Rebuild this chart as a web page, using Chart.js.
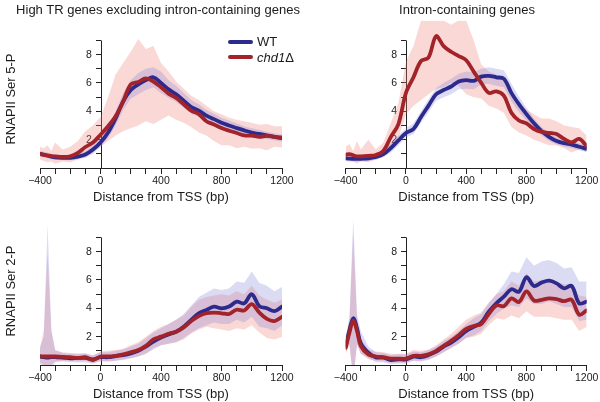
<!DOCTYPE html>
<html>
<head>
<meta charset="utf-8">
<script src="https://cdn.jsdelivr.net/npm/chart.js@4"></script>
<style>
  body { margin: 0; background: #fff; }
  #wrap { position: relative; width: 600px; height: 402px; overflow: hidden; font-family: "Liberation Sans", Arial, sans-serif; color: #1a1a1a; }
  canvas { position: absolute; }
  .txt { position: absolute; font-size: 13px; white-space: nowrap; line-height: 1; }
  .ytitle { position: absolute; font-size: 13px; white-space: nowrap; transform: translate(-50%, -50%) rotate(-90deg); line-height: 1; }
  .leg { position: absolute; height: 4px; width: 25px; border-radius: 2px; }
</style>
</head>
<body>
<div id="wrap">
  <canvas id="p1" width="300" height="210" style="left:0;top:0"></canvas>
  <canvas id="p2" width="300" height="210" style="left:300px;top:0"></canvas>
  <canvas id="p3" width="300" height="202" style="left:0;top:200px"></canvas>
  <canvas id="p4" width="300" height="202" style="left:300px;top:200px"></canvas>

  <div class="txt" style="left:158px;top:3px;transform:translateX(-50%)">High TR genes excluding intron-containing genes</div>
  <div class="txt" style="left:467px;top:3px;transform:translateX(-50%)">Intron-containing genes</div>
  <div class="ytitle" style="left:10px;top:99px">RNAPII Ser 5-P</div>
  <div class="ytitle" style="left:10px;top:291px">RNAPII Ser 2-P</div>

  <div class="leg" style="left:228px;top:40px;background:#2c2a8c"></div>
  <div class="txt" style="left:257px;top:35px">WT</div>
  <div class="leg" style="left:228px;top:55px;background:#a3232a"></div>
  <div class="txt" style="left:257px;top:51px"><i>chd1</i>Δ</div>
</div>
<script>
const positions = [-400, -375, -350, -325, -300, -250, -200, -150, -100, -50, 0, 50, 100, 150, 200, 250, 300, 350, 400, 450, 500, 550, 600, 650, 700, 750, 800, 850, 900, 950, 1000, 1050, 1100, 1150, 1200];
const xTickLabels = [-400, 0, 400, 800, 1200];
const yTickLabels = [2, 4, 6, 8];

// Ser 5-P, high TR genes
const s5HighWt = [1.0, 0.95, 0.88, 0.8, 0.75, 0.72, 0.72, 0.8, 0.95, 1.3, 1.8, 2.5, 3.5, 4.7, 5.5, 5.9, 6.2, 6.4, 6.0, 5.55, 5.2, 4.75, 4.3, 4.05, 3.7, 3.45, 3.2, 3.0, 2.82, 2.65, 2.5, 2.4, 2.3, 2.2, 2.1];
const s5HighWtHi = [1.2, 1.15, 1.1, 1.0, 0.95, 0.9, 0.9, 1.0, 1.2, 1.6, 2.1, 2.9, 4.0, 5.3, 6.2, 6.7, 7.0, 7.1, 6.8, 6.2, 5.8, 5.3, 4.8, 4.5, 4.1, 3.85, 3.55, 3.35, 3.15, 2.95, 2.8, 2.7, 2.55, 2.45, 2.35];
const s5HighWtLo = [0.8, 0.75, 0.68, 0.62, 0.58, 0.55, 0.55, 0.62, 0.72, 1.0, 1.5, 2.1, 3.0, 4.1, 4.9, 5.2, 5.5, 5.7, 5.3, 4.95, 4.65, 4.25, 3.85, 3.6, 3.3, 3.05, 2.85, 2.65, 2.5, 2.35, 2.2, 2.1, 2.05, 1.95, 1.85];
const s5HighChd1 = [1.0, 0.92, 0.88, 0.84, 0.82, 0.78, 0.82, 1.06, 1.48, 1.8, 2.35, 2.95, 3.65, 4.7, 5.9, 6.07, 6.33, 6.1, 5.7, 5.25, 4.95, 4.5, 4.05, 3.8, 3.3, 3.07, 2.82, 2.63, 2.47, 2.3, 2.28, 2.2, 2.27, 2.2, 2.15];
const s5HighChd1Hi = [1.5, 1.4, 1.6, 1.2, 1.8, 1.3, 1.5, 1.9, 2.6, 3.0, 3.6, 5.0, 6.6, 7.4, 8.2, 9.1, 8.4, 8.6, 7.4, 6.8, 6.1, 5.6, 5.1, 4.8, 4.4, 4.0, 3.8, 3.55, 3.4, 3.3, 3.2, 3.05, 3.1, 2.95, 2.95];
const s5HighChd1Lo = [0.6, 0.5, 0.4, 0.45, 0.3, 0.45, 0.4, 0.6, 0.9, 1.1, 1.5, 1.9, 2.3, 2.6, 2.8, 3.0, 3.3, 3.1, 3.4, 3.7, 3.4, 3.2, 2.9, 2.5, 2.3, 1.9, 1.6, 1.6, 1.4, 1.5, 1.35, 1.4, 1.25, 1.5, 1.45];

// Ser 5-P, intron-containing genes
const s5IntronWt = [0.68, 0.66, 0.65, 0.64, 0.65, 0.68, 0.78, 0.98, 1.41, 1.95, 2.47, 2.75, 3.6, 4.4, 5.2, 5.5, 5.75, 6.1, 6.2, 6.15, 6.45, 6.5, 6.4, 6.3, 5.3, 4.5, 3.8, 3.15, 2.6, 2.2, 1.9, 1.75, 1.65, 1.5, 1.36];
const s5IntronWtHi = [0.9, 0.88, 0.86, 0.85, 0.86, 0.9, 1.0, 1.25, 1.75, 2.3, 2.8, 3.15, 4.0, 4.85, 5.65, 6.0, 6.3, 6.65, 6.8, 6.75, 7.0, 7.1, 7.0, 6.9, 5.95, 5.05, 4.25, 3.5, 2.9, 2.5, 2.2, 2.05, 1.9, 1.75, 1.62];
const s5IntronWtLo = [0.48, 0.46, 0.45, 0.45, 0.46, 0.48, 0.58, 0.75, 1.1, 1.6, 2.15, 2.4, 3.2, 3.95, 4.75, 5.0, 5.2, 5.55, 5.6, 5.55, 5.9, 5.95, 5.8, 5.7, 4.7, 3.95, 3.35, 2.8, 2.3, 1.9, 1.65, 1.5, 1.4, 1.25, 1.15];
const s5IntronChd1 = [0.94, 0.98, 0.9, 0.82, 0.82, 0.86, 0.92, 1.2, 2.2, 3.1, 5.3, 6.4, 7.55, 7.8, 9.3, 8.6, 8.2, 7.9, 7.6, 6.8, 6.0, 5.3, 5.4, 5.1, 3.9, 3.35, 3.15, 2.75, 2.55, 2.48, 2.4, 2.05, 1.8, 2.05, 1.55];
const s5IntronChd1Hi = [1.5, 1.7, 1.2, 1.9, 1.3, 2.0, 1.3, 1.8, 3.2, 4.6, 7.5, 8.6, 10.4, 10.4, 10.4, 10.4, 10.1, 10.4, 10.4, 9.0, 7.3, 6.8, 6.6, 6.2, 5.2, 4.5, 4.1, 3.8, 3.5, 3.5, 3.3, 3.0, 2.9, 2.8, 2.3];
const s5IntronChd1Lo = [0.5, 0.55, 0.45, 0.3, 0.5, 0.4, 0.6, 0.8, 1.5, 2.1, 3.8, 4.4, 4.8, 5.2, 5.6, 5.7, 6.0, 5.8, 5.2, 5.0, 4.9, 4.4, 4.2, 3.9, 2.9, 2.5, 2.3, 2.0, 1.8, 1.6, 1.6, 1.4, 1.1, 1.3, 1.1];

// Ser 2-P, high TR genes
const s2HighWt = [0.59, 0.55, 0.52, 0.55, 0.55, 0.53, 0.47, 0.5, 0.5, 0.4, 0.55, 0.55, 0.63, 0.7, 0.82, 1.0, 1.3, 1.65, 1.93, 2.16, 2.35, 2.7, 3.18, 3.65, 3.88, 4.12, 4.0, 4.12, 4.47, 4.35, 4.99, 4.16, 4.0, 3.8, 4.12];
const s2HighWtHi = [1.3, 2.0, 9.9, 2.5, 1.1, 0.85, 0.8, 0.8, 0.8, 0.7, 0.9, 0.9, 1.0, 1.1, 1.3, 1.5, 1.9, 2.3, 2.6, 2.9, 3.2, 3.6, 4.2, 4.8, 5.1, 5.4, 5.3, 5.4, 5.9, 5.8, 6.6, 5.8, 5.6, 5.2, 5.5];
const s2HighWtLo = [0.1, -0.3, -1.0, -0.3, 0.2, 0.25, 0.2, 0.2, 0.2, 0.1, 0.25, 0.25, 0.3, 0.35, 0.45, 0.6, 0.8, 1.1, 1.4, 1.5, 1.6, 1.9, 2.3, 2.6, 2.8, 3.0, 2.9, 2.9, 3.2, 3.0, 3.4, 2.7, 2.6, 2.4, 2.8];
const s2HighChd1 = [0.62, 0.6, 0.6, 0.6, 0.6, 0.58, 0.55, 0.5, 0.55, 0.35, 0.6, 0.6, 0.65, 0.75, 0.9, 1.05, 1.35, 1.8, 2.0, 2.2, 2.35, 2.65, 3.1, 3.45, 3.65, 3.7, 3.65, 3.6, 3.9, 3.85, 4.3, 3.7, 3.25, 3.1, 3.4];
const s2HighChd1Hi = [1.1, 2.5, 7.9, 2.4, 1.0, 0.9, 0.85, 0.8, 0.85, 0.65, 0.95, 1.0, 1.05, 1.15, 1.4, 1.6, 2.0, 2.4, 2.7, 2.9, 3.2, 3.5, 4.1, 4.6, 4.8, 4.9, 5.0, 4.9, 5.2, 5.0, 5.6, 4.9, 4.6, 4.4, 4.6];
const s2HighChd1Lo = [0.2, 0.0, -1.0, 0.0, 0.25, 0.3, 0.3, 0.25, 0.3, 0.1, 0.3, 0.25, 0.3, 0.4, 0.5, 0.6, 0.8, 1.2, 1.4, 1.5, 1.6, 1.8, 2.2, 2.5, 2.7, 2.6, 2.5, 2.4, 2.6, 2.5, 2.8, 2.3, 1.9, 1.8, 2.0];

// Ser 2-P, intron-containing genes
const s2IntronWt = [1.36, 2.47, 3.3, 2.59, 1.53, 0.87, 0.54, 0.52, 0.35, 0.4, 0.4, 0.6, 0.55, 0.7, 0.94, 1.3, 1.58, 1.95, 2.4, 2.7, 2.99, 3.76, 4.35, 4.82, 5.34, 5.17, 6.19, 5.58, 5.81, 5.95, 5.76, 5.41, 5.58, 4.35, 4.47];
const s2IntronWtHi = [1.9, 3.5, 10.3, 3.6, 2.4, 1.3, 0.9, 0.85, 0.7, 0.75, 0.75, 0.95, 0.9, 1.05, 1.3, 1.7, 2.0, 2.4, 2.9, 3.3, 3.6, 4.4, 5.0, 5.7, 6.6, 6.5, 7.6, 7.0, 7.3, 7.4, 7.2, 6.8, 6.9, 5.9, 5.9];
const s2IntronWtLo = [0.9, 1.5, -1.0, 1.5, 0.8, 0.5, 0.2, 0.2, 0.05, 0.1, 0.1, 0.3, 0.25, 0.35, 0.6, 0.9, 1.2, 1.5, 1.9, 2.1, 2.4, 3.1, 3.6, 4.0, 4.2, 4.1, 4.7, 4.3, 4.3, 4.5, 4.3, 4.1, 4.1, 3.1, 3.2];
const s2IntronChd1 = [1.22, 2.3, 3.13, 2.4, 1.35, 0.75, 0.6, 0.55, 0.45, 0.45, 0.45, 0.65, 0.65, 0.75, 1.0, 1.35, 1.7, 2.1, 2.55, 2.75, 2.9, 3.6, 4.2, 4.15, 4.7, 4.45, 5.2, 4.55, 4.6, 4.7, 4.65, 4.5, 4.6, 3.55, 3.85];
const s2IntronChd1Hi = [1.6, 3.2, 9.3, 3.3, 1.9, 1.1, 0.95, 0.9, 0.8, 0.8, 0.8, 1.05, 1.0, 1.1, 1.4, 1.8, 2.2, 2.7, 3.2, 3.5, 3.7, 4.4, 5.0, 5.2, 5.9, 5.6, 6.5, 5.9, 6.0, 6.1, 5.9, 5.7, 5.7, 4.9, 4.8];
const s2IntronChd1Lo = [0.8, 1.4, -1.0, 1.4, 0.8, 0.4, 0.3, 0.25, 0.15, 0.15, 0.15, 0.3, 0.3, 0.4, 0.6, 0.9, 1.2, 1.5, 1.9, 2.0, 2.2, 2.8, 3.3, 3.2, 3.5, 3.3, 3.8, 3.4, 3.4, 3.4, 3.3, 3.2, 3.2, 2.4, 2.7];

const corWt = '#2c2a8c';
const corChd1 = '#a3232a';
const faixaWt = 'rgba(125, 125, 215, 0.28)';
const faixaChd1 = 'rgba(240, 125, 115, 0.30)';
const fonte = '"Liberation Sans", Arial, sans-serif';

function pontos(valores) {
    return valores.map((v, i) => ({ x: positions[i], y: v }));
}

// y axis line only goes from 0 to 9, like the original figure
const linhaEixoY = {
    id: 'linhaEixoY',
    beforeDatasetsDraw(chart) {
        const { ctx, scales } = chart;
        const x = Math.round(scales.x.getPixelForValue(0)) + 0.5;
        ctx.save();
        ctx.strokeStyle = '#222';
        ctx.lineWidth = 1;
        ctx.beginPath();
        ctx.moveTo(x, scales.y.getPixelForValue(0));
        ctx.lineTo(x, scales.y.getPixelForValue(9));
        ctx.stroke();
        ctx.restore();
    }
};

function criarPainel(idCanvas, padding, wt, wtHi, wtLo, chd1, chd1Hi, chd1Lo) {
    const faixa = (dados, cor, fill) => ({
        data: pontos(dados), borderWidth: 0, pointRadius: 0, tension: 0,
        backgroundColor: cor, fill: fill
    });
    const linha = (dados, cor, ordem) => ({
        data: pontos(dados), borderColor: cor, borderWidth: 3.8, pointRadius: 0,
        tension: 0.35, fill: false, order: ordem, borderCapStyle: 'round', borderJoinStyle: 'round'
    });

    new Chart(document.getElementById(idCanvas), {
        type: 'line',
        data: {
            datasets: [
                { ...faixa(chd1Hi, faixaChd1, '+1'), order: 5 },
                { ...faixa(chd1Lo, 'transparent', false), order: 5 },
                { ...faixa(wtHi, faixaWt, '+1'), order: 4 },
                { ...faixa(wtLo, 'transparent', false), order: 4 },
                linha(wt, corWt, 1),
                linha(chd1, corChd1, 0)
            ]
        },
        options: {
            responsive: false,
            animation: false,
            devicePixelRatio: 1,
            layout: { padding: padding },
            plugins: { legend: { display: false }, tooltip: { enabled: false } },
            scales: {
                x: {
                    type: 'linear',
                    min: -400,
                    max: 1200,
                    afterFit: (s) => { s.height = 37; },
                    ticks: {
                        stepSize: 100,
                        autoSkip: false,
                        maxRotation: 0,
                        padding: 1,
                        color: '#1a1a1a',
                        font: { family: fonte, size: 10.5 },
                        callback: (v) => xTickLabels.includes(v) ? String(v).replace('-', '\u2212') : ''
                    },
                    grid: { drawOnChartArea: false, tickLength: 6, color: '#222' },
                    border: { color: '#222', width: 1 },
                    title: {
                        display: true,
                        text: 'Distance from TSS (bp)',
                        color: '#1a1a1a',
                        font: { family: fonte, size: 13 },
                        padding: 0
                    }
                },
                y: {
                    type: 'linear',
                    position: { x: 0 },
                    min: 0,
                    max: 10.4,
                    afterFit: (s) => { s.width = 0; },
                    afterBuildTicks: (s) => { s.ticks = s.ticks.filter(t => t.value >= 1 && t.value <= 9); },
                    ticks: {
                        stepSize: 1,
                        color: '#1a1a1a',
                        font: { family: fonte, size: 10.5 },
                        // labels sit on the axis pixel when the axis is placed at x = 0, so pad them with spaces
                        callback: (v) => yTickLabels.includes(v) ? `${v}   ` : ''
                    },
                    grid: { drawOnChartArea: false, tickLength: 5, color: '#222' },
                    border: { display: false }
                }
            }
        },
        plugins: [linhaEixoY]
    });
}

criarPainel('p1', { left: 40, right: 18, top: 20.6, bottom: 5 }, s5HighWt, s5HighWtHi, s5HighWtLo, s5HighChd1, s5HighChd1Hi, s5HighChd1Lo);
criarPainel('p2', { left: 45.7, right: 13.3, top: 20.6, bottom: 5 }, s5IntronWt, s5IntronWtHi, s5IntronWtLo, s5IntronChd1, s5IntronChd1Hi, s5IntronChd1Lo);
criarPainel('p3', { left: 40, right: 18, top: 17.6, bottom: 0 }, s2HighWt, s2HighWtHi, s2HighWtLo, s2HighChd1, s2HighChd1Hi, s2HighChd1Lo);
criarPainel('p4', { left: 45.7, right: 13.3, top: 17.6, bottom: 0 }, s2IntronWt, s2IntronWtHi, s2IntronWtLo, s2IntronChd1, s2IntronChd1Hi, s2IntronChd1Lo);
</script>
</body>
</html>
